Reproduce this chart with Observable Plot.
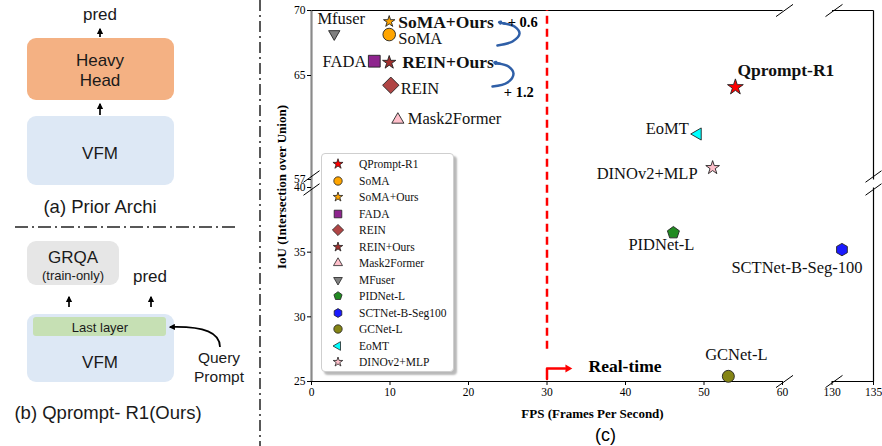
<!DOCTYPE html>
<html><head><meta charset="utf-8">
<script src="https://cdn.jsdelivr.net/npm/d3@7"></script>
<script src="https://cdn.jsdelivr.net/npm/@observablehq/plot@0.6"></script>
<style>
body{margin:0;background:#fff;}
#fig{position:relative;width:882px;height:446px;overflow:hidden;font-family:"Liberation Sans",Arial,sans-serif;background:#fff;}
.box{position:absolute;border-radius:9px;}
.t{position:absolute;transform:translate(-50%,-50%);white-space:nowrap;color:#1a1a1a;line-height:1;}
#legend{position:absolute;left:321px;top:153px;width:131px;height:217px;background:#fff;border:1px solid #cfcfcf;border-radius:4px;box-shadow:3px 3px 2px rgba(0,0,0,0.28);font-family:"Liberation Serif",serif;font-size:11.5px;color:#111;}
.lg{position:absolute;left:0;height:16px;display:flex;align-items:center;}
.lg svg{width:22px;height:16px;margin-left:5px;margin-right:10px;}
</style></head><body><div id="fig"></div>
<script>
// ---------- data ----------
const methods = ["Qprompt-R1","SoMA","SoMA+Ours","FADA","REIN","REIN+Ours","Mask2Former","MFuser","PIDNet-L","SCTNet-B-Seg100","GCNet-L","EoMT","DINOv2+MLP"];
const legendLabels = ["QPrompt-R1","SoMA","SoMA+Ours","FADA","REIN","REIN+Ours","Mask2Former","MFuser","PIDNet-L","SCTNet-B-Seg100","GCNet-L","EoMT","DINOv2+MLP"];
const pointLabels = ["Qprompt-R1","SoMA","SoMA+Ours","FADA","REIN","REIN+Ours","Mask2Former","Mfuser","PIDNet-L","SCTNet-B-Seg-100","GCNet-L","EoMT","DINOv2+MLP"];
const fps = [54.0, 9.9, 9.9, 8.0, 10.1, 9.9, 11.0, 2.9, 46.1, 131.2, 53.1, 49.2, 51.1];
const iou = [64.1, 68.15, 69.15, 66.1, 64.25, 66.0, 61.6, 68.2, 36.5, 35.2, 25.4, 60.5, 57.9];
const xTicks = [0,10,20,30,40,50,60,130,135];
const yTicks = [25,30,35,40,57,65,70];
const xBreakDomain = [0,60,130,135];
const yBreakDomain = [25,40,57,70];
const realTimeFps = 30;
const gain1Curve = [{x:23.69,y:67.31},{x:25.61,y:67.62},{x:26.5,y:68.23},{x:25.86,y:68.77},{x:24.4,y:69.02}];
const gain2Curve = [{x:23.06,y:64.15},{x:24.97,y:64.46},{x:25.73,y:65.15},{x:25.10,y:65.69},{x:23.8,y:65.92}];
const gainHeads = [{x1:24.6,y1:69.0,x2:23.9,y2:69.1},{x1:24.0,y1:65.9,x2:23.3,y2:66.0}];
const gainTexts = [{x:26.9,y:69.08,text:"+ 0.6"},{x:26.4,y:63.7,text:"+ 1.2"}];
const realTimeElbow = [{x:30,y:25.2},{x:30,y:26.0},{x:32.3,y:26.0}];
const realTimeHead = [{x:32.64,y:26.0}];
const realTimeText = [{x:35.3,y:26.2,text:"Real-time"}];

// ---------- styles ----------
const fills = ["#ff0000","#ffa500","#ffa500","#8e248e","#b04545","#a0302e","#ffc0cb","#808080","#228b22","#1a1aff","#858515","#00ffff","#ffc0cb"];
const shapes = ["star","circle","star","square","diamond","star","triUp","triDown","pentagon","hexagon","circle","triLeft","star"];
const sizes = [8.3,6.3,6,5.9,8.2,7,7,6.5,6.3,6.2,6,7,7.2];
const legendSizes = [5.3,4.2,5,3.8,5.6,5,5.2,5,4.3,4.4,4.2,5,5];
const placement = [
 {dx:2,dy:-17,anchor:"start",bold:true},
 {dx:9,dy:4,anchor:"start"},
 {dx:9,dy:1,anchor:"start",bold:true},
 {dx:-8,dy:1,anchor:"end"},
 {dx:10,dy:3,anchor:"start"},
 {dx:13,dy:0,anchor:"start",bold:true},
 {dx:10,dy:-1,anchor:"start"},
 {dx:7,dy:-15,anchor:"middle"},
 {dx:-12,dy:12,anchor:"middle"},
 {dx:-45,dy:18,anchor:"middle"},
 {dx:8,dy:-22,anchor:"middle"},
 {dx:-9,dy:-5,anchor:"end"},
 {dx:-15,dy:6,anchor:"end"}
];

function poly(n, rot, k = 1) {
  return {draw(ctx, size) {
    const R = Math.sqrt(size / Math.PI) * k;
    for (let i = 0; i < n; i++) {
      const a = rot + i * 2 * Math.PI / n, x = R * Math.sin(a), y = -R * Math.cos(a);
      if (i === 0) ctx.moveTo(x, y); else ctx.lineTo(x, y);
    }
    ctx.closePath();
  }};
}
const starSym = {draw(ctx, size) {
  const R = Math.sqrt(size / Math.PI), r = R * 0.382;
  for (let i = 0; i < 10; i++) {
    const a = i * Math.PI / 5, rr = i % 2 ? r : R, x = rr * Math.sin(a), y = -rr * Math.cos(a);
    if (i === 0) ctx.moveTo(x, y); else ctx.lineTo(x, y);
  }
  ctx.closePath();
}};
const symbols = {
  star: starSym, circle: d3.symbolCircle, square: poly(4, Math.PI/4, Math.SQRT2),
  diamond: poly(4, 0), triUp: poly(3, 0), triDown: poly(3, Math.PI), triLeft: poly(3, -Math.PI/2),
  triRight: poly(3, Math.PI/2), pentagon: poly(5, 0), hexagon: poly(6, 0)
};
const slash = {draw(ctx, size) { const R = Math.sqrt(size / Math.PI); ctx.moveTo(-R, R*0.72); ctx.lineTo(R, -R*0.72); }};

const rows = methods.map((m, i) => ({method: m, label: pointLabels[i], fps: fps[i], iou: iou[i]}));
const spines = [
  {x1:0,x2:60,y1:70,y2:70},{x1:130,x2:135,y1:70,y2:70},
  {x1:0,x2:60,y1:25,y2:25},{x1:130,x2:135,y1:25,y2:25},
  {x1:135,x2:135,y1:57,y2:70},{x1:135,x2:135,y1:25,y2:40}
];
const breaksTop = [{x:0,y:57},{x:135,y:57}];
const breaksLow = [{x:0,y:40},{x:135,y:40}];
const breaksX = [{x:60,y:25},{x:130,y:25},{x:60,y:70},{x:130,y:70}];

const marks = [
  Plot.ruleX([0], {y1: 25, y2: 70, stroke: "#8a8a8a", strokeWidth: 2.2}),
  Plot.link(spines, {x1:"x1", y1:"y1", x2:"x2", y2:"y2", stroke:"#000", strokeWidth:1.2}),
  Plot.axisX({ticks: xTicks, tickFormat: d => String(d), tickSize: 4, tickPadding: 2, label: null, fontSize: 11.5}),
  Plot.axisY({ticks: yTicks, tickFormat: d => String(d), tickSize: 4, tickPadding: 2, label: null, fontSize: 11.5}),
  Plot.dot(breaksTop, {x:"x", y:"y", symbol: slash, r: 8, stroke:"#000", strokeWidth:1, fill:"none", dy:-3}),
  Plot.dot(breaksLow, {x:"x", y:"y", symbol: slash, r: 8, stroke:"#000", strokeWidth:1, fill:"none", dy:2}),
  Plot.dot(breaksX, {x:"x", y:"y", symbol: slash, r: 8.5, stroke:"#000", strokeWidth:1, fill:"none", dx:2}),
  Plot.ruleX([realTimeFps], {y1: 27.5, y2: 70, stroke: "#ff0000", strokeWidth: 2.5, strokeDasharray: "8,5"}),
  Plot.line(realTimeElbow, {x:"x", y:"y", stroke:"#ff0000", strokeWidth:2.5}),
  Plot.dot(realTimeHead, {x:"x", y:"y", symbol: symbols.triRight, r: 4.6, fill:"#ff0000", stroke:"none"}),
  Plot.text(realTimeText, {x:"x", y:"y", text:"text", textAnchor:"start", fontWeight:"bold", fontSize:17.5, fill:"#000"}),
  Plot.line(gain1Curve, {x:"x", y:"y", curve:"catmull-rom", stroke:"#2f5fa7", strokeWidth:2.5}),
  Plot.line(gain2Curve, {x:"x", y:"y", curve:"catmull-rom", stroke:"#2f5fa7", strokeWidth:2.5}),
  Plot.arrow(gainHeads, {x1:"x1", y1:"y1", x2:"x2", y2:"y2", stroke:"#2f5fa7", strokeWidth:2.5, headLength:7}),
  Plot.text(gainTexts, {x:"x", y:"y", text:"text", fontWeight:"bold", fontSize:14.5, fill:"#000"}),
  Plot.text(["FPS (Frames Per Second)"], {frameAnchor:"bottom", dy: 32, lineAnchor:"middle", textAnchor:"middle", text: d => d, fontWeight:"bold", fontSize: 13}),
  Plot.text(["IoU (Intersection over Union)"], {frameAnchor:"left", dx: -30, dy: -9, lineAnchor:"middle", textAnchor:"middle", rotate: -90, text: d => d, fontWeight:"bold", fontSize: 13}),
  Plot.text(["(c)"], {frameAnchor:"bottom", dx: 13, dy: 54, lineAnchor:"middle", textAnchor:"middle", text: d => d, fontFamily:"Liberation Sans", fontSize: 18})
];
rows.forEach((d, i) => {
  marks.push(Plot.dot([d], {x:"fps", y:"iou", symbol: symbols[shapes[i]], r: sizes[i], fill: fills[i], stroke:"#222", strokeWidth: 0.9}));
  const p = placement[i];
  marks.push(Plot.text([d], {x:"fps", y:"iou", text:"label", dx:p.dx, dy:p.dy, textAnchor:p.anchor,
    fontWeight: p.bold ? "bold" : "normal", fontSize: p.bold ? 17.5 : 16.5, fill:"#111"}));
});

const chart = Plot.plot({
  width: 882, height: 446,
  marginLeft: 311, marginRight: 9, marginTop: 10, marginBottom: 65,
  x: {type: "linear", domain: xBreakDomain, range: [311, 782, 831.5, 873]},
  y: {type: "linear", domain: yBreakDomain, range: [381, 187, 179, 10]},
  style: {fontFamily: "Liberation Serif", fontSize: "11.5px", background: "transparent", overflow: "visible", color: "#000"},
  marks
});
chart.style.position = "absolute"; chart.style.left = "0px"; chart.style.top = "0px";

const fig = document.getElementById("fig");

// ---------- left diagram (decoration) ----------
fig.insertAdjacentHTML("beforeend", `
<div class="box" style="left:27px;top:38px;width:147px;height:62px;background:#f4b183"></div>
<div class="box" style="left:27px;top:116px;width:147px;height:69px;background:#dde8f5"></div>
<div class="box" style="left:27px;top:241px;width:92px;height:44px;background:#e6e6e6"></div>
<div class="box" style="left:27px;top:314px;width:147px;height:68px;background:#dde8f5"></div>
<div class="box" style="left:33px;top:317px;width:133px;height:19px;background:#c6e0b4;border-radius:3px"></div>
<div class="t" style="left:100px;top:14px;font-size:17px">pred</div>
<div class="t" style="left:100px;top:60px;font-size:17px">Heavy</div>
<div class="t" style="left:100px;top:80px;font-size:17px">Head</div>
<div class="t" style="left:100px;top:153px;font-size:17px">VFM</div>
<div class="t" style="left:100px;top:207px;font-size:18.5px">(a) Prior Archi</div>
<div class="t" style="left:73px;top:257px;font-size:17px">GRQA</div>
<div class="t" style="left:73px;top:275px;font-size:13px">(train-only)</div>
<div class="t" style="left:150px;top:276px;font-size:17px">pred</div>
<div class="t" style="left:100px;top:327px;font-size:13px">Last layer</div>
<div class="t" style="left:100px;top:362px;font-size:17px">VFM</div>
<div class="t" style="left:219px;top:358px;font-size:15.5px">Query</div>
<div class="t" style="left:219px;top:377px;font-size:15.5px">Prompt</div>
<div class="t" style="left:108px;top:413px;font-size:18.5px">(b) Qprompt- R1(Ours)</div>
<svg width="882" height="446" style="position:absolute;left:0;top:0">
<defs><marker id="ah" viewBox="0 0 10 10" refX="8" refY="5" markerWidth="3.6" markerHeight="3.6" orient="auto"><path d="M0,0 L10,5 L0,10 z" fill="#000"/></marker></defs>
<g stroke="#000" stroke-width="1.7" fill="none">
<line x1="100" y1="37" x2="100" y2="29" marker-end="url(#ah)"/>
<line x1="100" y1="115" x2="100" y2="104" marker-end="url(#ah)"/>
<line x1="69" y1="307" x2="69" y2="297" marker-end="url(#ah)"/>
<line x1="151" y1="307" x2="151" y2="297" marker-end="url(#ah)"/>
<path d="M220,347 C220,333 205,326 170,327" marker-end="url(#ah)"/>
</g>
<line x1="15" y1="227" x2="238" y2="227" stroke="#222" stroke-width="1.3" stroke-dasharray="13,4,2,4"/>
<line x1="260" y1="0" x2="260" y2="446" stroke="#222" stroke-width="1.5" stroke-dasharray="11,4,2,4"/>
</svg>`);

fig.appendChild(chart);

// ---------- legend ----------
const legend = document.createElement("div");
legend.id = "legend";
legendLabels.forEach((lab, i) => {
  const row = document.createElement("div");
  row.className = "lg";
  row.style.top = (2 + i * 16.5) + "px";
  const path = d3.symbol(symbols[shapes[i]], Math.PI * legendSizes[i] * legendSizes[i])();
  row.innerHTML = `<svg viewBox="-11 -8 22 16"><path d="${path}" fill="${fills[i]}" stroke="#222" stroke-width="0.8"/></svg><span>${lab}</span>`;
  legend.appendChild(row);
});
fig.appendChild(legend);
</script></body></html>
